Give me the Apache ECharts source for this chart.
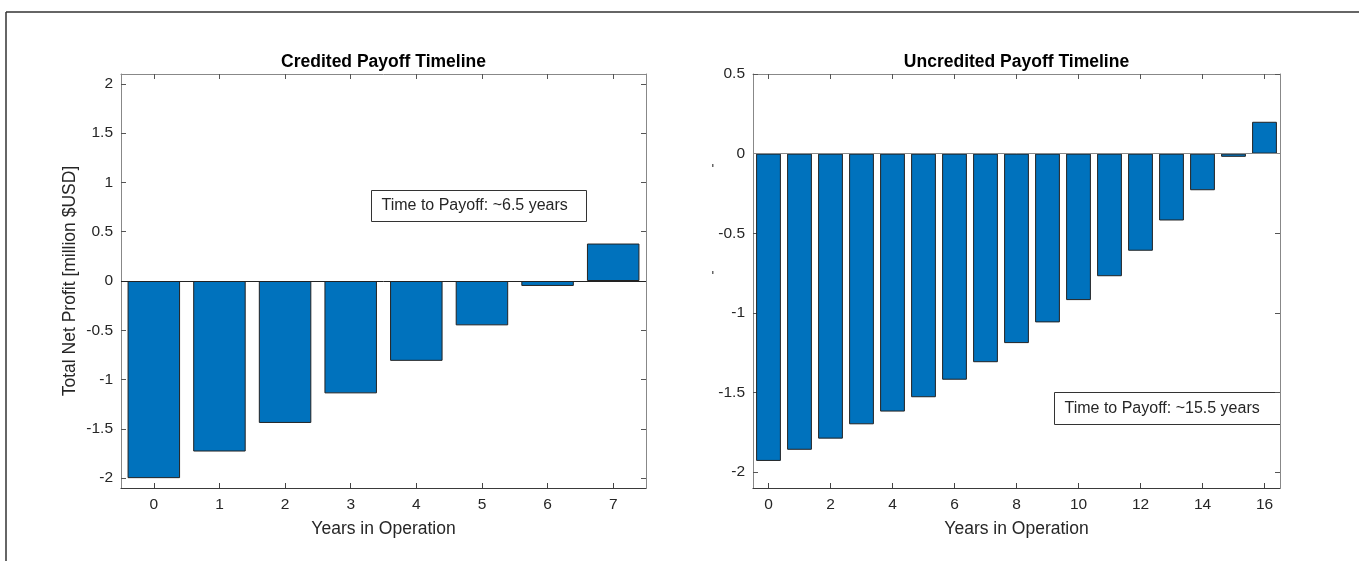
<!DOCTYPE html>
<html>
<head>
<meta charset="utf-8">
<title>Payoff Timeline</title>
<script src="https://cdn.jsdelivr.net/npm/echarts@6/dist/echarts.min.js"></script>
<style>
  html, body { margin: 0; padding: 0; background: #fff; }
  #chart { width: 1359px; height: 561px; }
</style>
</head>
<body>
<div id="chart"></div>
<script>
  // 数据
  var creditedYears = ['0', '1', '2', '3', '4', '5', '6', '7'];
  var creditedProfit = [-2.00, -1.73, -1.44, -1.14, -0.81, -0.45, -0.05, 0.38];
  var creditedTicks = [-2, -1.5, -1, -0.5, 0, 0.5, 1, 1.5, 2];

  var uncreditedYears = ['0', '1', '2', '3', '4', '5', '6', '7', '8', '9', '10', '11', '12', '13', '14', '15', '16'];
  var uncreditedProfit = [-1.93, -1.86, -1.79, -1.70, -1.62, -1.53, -1.42, -1.31, -1.19, -1.06, -0.92, -0.77, -0.61, -0.42, -0.23, -0.02, 0.20];
  var uncreditedTicks = [-2, -1.5, -1, -0.5, 0, 0.5];

  var creditedNote = 'Time to Payoff: ~6.5 years';
  var uncreditedNote = 'Time to Payoff: ~15.5 years';

  var FONT = '"Liberation Sans", Arial, sans-serif';
  var BAR_COLOR = '#0072BD';

  // 下方x轴
  function bottomAxis (gridIndex, data, tickInterval) {
    return {
      type: 'category',
      gridIndex: gridIndex,
      position: 'bottom',
      data: data,
      name: 'Years in Operation',
      nameLocation: 'middle',
      nameGap: 32,
      nameTextStyle: { color: '#262626', fontSize: 17.5, fontFamily: FONT },
      axisLine: { onZero: false, lineStyle: { color: '#3a3a3a', width: 1.2 } },
      axisTick: { show: true, inside: true, length: 5, alignWithLabel: true, interval: tickInterval, lineStyle: { color: '#444' } },
      axisLabel: { interval: tickInterval, margin: 9, color: '#262626', fontSize: 15.5, fontFamily: FONT },
      splitLine: { show: false }
    };
  }
  // 上方镜像x轴
  function topAxis (gridIndex, data, tickInterval) {
    return {
      type: 'category',
      gridIndex: gridIndex,
      position: 'top',
      data: data,
      axisLine: { onZero: false, lineStyle: { color: '#888', width: 1 } },
      axisTick: { show: true, inside: true, length: 5, alignWithLabel: true, interval: tickInterval, lineStyle: { color: '#555' } },
      axisLabel: { show: false },
      splitLine: { show: false }
    };
  }
  function valueAxis (gridIndex, pos, min, max, ticks, showLabel) {
    var axis = {
      type: 'value',
      gridIndex: gridIndex,
      position: pos,
      min: min,
      max: max,
      axisLine: { show: true, onZero: false, lineStyle: { color: '#888', width: 1 } },
      axisTick: { show: true, inside: true, length: 5, customValues: ticks, lineStyle: { color: '#555' } },
      axisLabel: { show: showLabel, customValues: ticks, margin: 8, color: '#262626', fontSize: 15.5, fontFamily: FONT },
      splitLine: { show: false }
    };
    return axis;
  }

  function barSeries (xi, yi, data, zeroColor) {
    return {
      type: 'bar',
      xAxisIndex: xi,
      yAxisIndex: yi,
      data: data,
      barCategoryGap: '20%',
      itemStyle: { color: BAR_COLOR, borderColor: '#222', borderWidth: 1 },
      markLine: {
        silent: true,
        symbol: 'none',
        label: { show: false },
        lineStyle: { color: zeroColor, type: 'solid', width: 1 },
        data: [{ yAxis: 0 }]
      }
    };
  }

  var yLeft = valueAxis(0, 'left', -2.1, 2.1, creditedTicks, true);
  yLeft.name = 'Total Net Profit [million $USD]';
  yLeft.nameLocation = 'middle';
  yLeft.nameGap = 42;
  yLeft.nameTextStyle = { color: '#262626', fontSize: 17.5, fontFamily: FONT };

  var option = {
    animation: false,
    backgroundColor: '#fff',
    title: [
      {
        text: 'Credited Payoff Timeline',
        left: 383.5, top: 53, padding: 0, textAlign: 'center',
        textStyle: { color: '#000', fontSize: 17.5, fontWeight: 'bold', fontFamily: FONT }
      },
      {
        text: 'Uncredited Payoff Timeline',
        left: 1016.5, top: 53, padding: 0, textAlign: 'center',
        textStyle: { color: '#000', fontSize: 17.5, fontWeight: 'bold', fontFamily: FONT }
      }
    ],
    grid: [
      { left: 121, top: 74, width: 525, height: 414 },
      { left: 753, top: 74, width: 527, height: 414 }
    ],
    xAxis: [
      bottomAxis(0, creditedYears, 0),
      topAxis(0, creditedYears, 0),
      bottomAxis(1, uncreditedYears, 1),
      topAxis(1, uncreditedYears, 1)
    ],
    yAxis: [
      yLeft,
      valueAxis(0, 'right', -2.1, 2.1, creditedTicks, false),
      valueAxis(1, 'left', -2.1, 0.5, uncreditedTicks, true),
      valueAxis(1, 'right', -2.1, 0.5, uncreditedTicks, false)
    ],
    series: [
      barSeries(0, 0, creditedProfit, '#222'),
      barSeries(2, 2, uncreditedProfit, '#8a8a8a')
    ],
    graphic: [
      // 外框
      { type: 'line', shape: { x1: 6, y1: 12, x2: 1359, y2: 12 }, style: { stroke: '#333', lineWidth: 1.5 } },
      { type: 'line', shape: { x1: 6, y1: 12, x2: 6, y2: 561 }, style: { stroke: '#333', lineWidth: 1.5 } },
      // 注释框
      {
        type: 'group', left: 371, top: 190,
        children: [
          { type: 'rect', shape: { x: 0, y: 0, width: 215, height: 31 }, style: { fill: '#fff', stroke: '#333', lineWidth: 1 } },
          { type: 'text', x: 10, y: 15.5, style: { text: creditedNote, fill: '#262626', font: '16px ' + FONT, verticalAlign: 'middle' } }
        ]
      },
      {
        type: 'group', left: 1054, top: 392,
        children: [
          { type: 'rect', shape: { x: 0, y: 0, width: 226, height: 32 }, style: { fill: '#fff', stroke: '#333', lineWidth: 1 } },
          { type: 'text', x: 10, y: 16, style: { text: uncreditedNote, fill: '#262626', font: '16px ' + FONT, verticalAlign: 'middle' } }
        ]
      },
      // 小标记
      { type: 'rect', shape: { x: 712, y: 164, width: 1.5, height: 3 }, style: { fill: '#666' } },
      { type: 'rect', shape: { x: 712, y: 271, width: 1.5, height: 3 }, style: { fill: '#666' } }
    ]
  };

  var myChart = echarts.init(document.getElementById('chart'));
  myChart.setOption(option);
</script>
</body>
</html>
